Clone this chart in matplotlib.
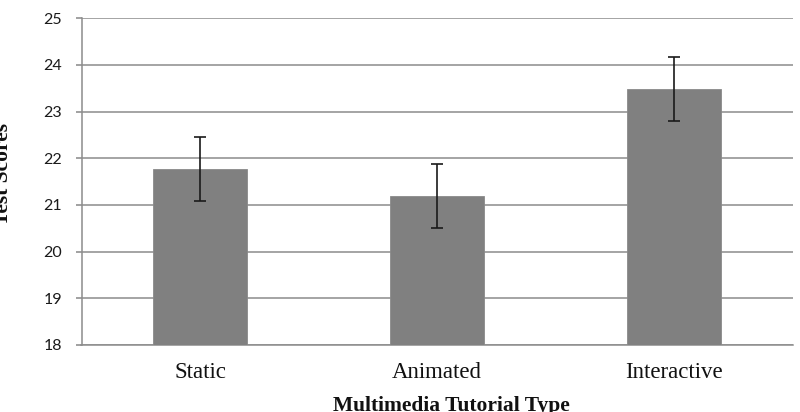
import matplotlib
matplotlib.use("Agg")
import matplotlib.pyplot as plt

categories = ["Static", "Animated", "Interactive"]
means = [21.77, 21.19, 23.48]
errors = [0.69, 0.69, 0.69]
yticks = [18, 19, 20, 21, 22, 23, 24, 25]

fig = plt.figure(figsize=(8, 4.12), dpi=100)
ax = fig.add_axes([81.5/800, (412-345)/412, 711/800, 326.7/412])

x = list(range(len(categories)))
ax.bar(x, [m - 18 for m in means], bottom=18, width=0.397, color="#808080",
       edgecolor="#8a8a8a", linewidth=0.6, zorder=3)
ax.errorbar(x, means, yerr=errors, fmt="none", ecolor="#1a1a1a",
            elinewidth=1.2, capsize=4.5, capthick=1.2, zorder=4)

ax.set_xlim(-0.5, 2.5)
ax.set_ylim(18, 25)
ax.set_yticks(yticks)
ax.set_yticklabels([str(t) for t in yticks], fontfamily="Lato", fontsize=11.5,
                   color="#1a1a1a")
ax.set_xticks(x)
ax.set_xticklabels(categories, fontfamily="Liberation Serif", fontsize=16.5,
                   color="#111111")
ax.tick_params(axis="x", length=0, pad=12)
ax.tick_params(axis="y", length=4, width=1.1, color="#888888", pad=10)

ax.grid(axis="y", color="#8c8c8c", linewidth=1.1, zorder=0)
ax.set_axisbelow(True)
for s in ["top", "right"]:
    ax.spines[s].set_visible(False)
for s in ["left", "bottom"]:
    ax.spines[s].set_color("#8c8c8c")
    ax.spines[s].set_linewidth(1.1)

fig.text(3/800, 1 - 174/412, "Test Scores", rotation=90, ha="center", va="center",
         fontfamily="Liberation Serif", fontweight="bold", fontsize=15.5,
         color="#111111")
fig.text(451/800, (412-411)/412, "Multimedia Tutorial Type", ha="center",
         va="baseline", fontfamily="Liberation Serif", fontweight="bold",
         fontsize=15.5, color="#111111")

fig.savefig("out.png", dpi=100)
